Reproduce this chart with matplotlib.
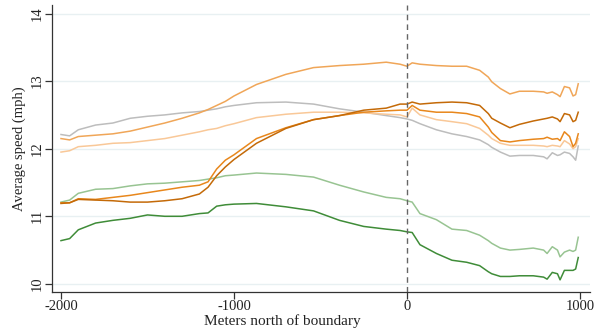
import matplotlib
matplotlib.use("Agg")
import matplotlib.pyplot as plt

plt.rcParams['font.family'] = ['Liberation Serif', 'DejaVu Serif']

meters = [-2000, -1950, -1900, -1800, -1700, -1600, -1500, -1400, -1300, -1200,
          -1150, -1100, -1050, -1000, -870, -700, -540, -390, -250, -120,
          -40, 0, 30, 75, 170, 260, 345, 420, 470, 490,
          540, 595, 650, 730, 790, 810, 840, 870, 885, 910,
          940, 960, 975, 990]

orange_top = [12.15, 12.13, 12.18, 12.20, 12.22, 12.26, 12.32, 12.38, 12.45, 12.53,
              12.58, 12.64, 12.70, 12.78, 12.95, 13.10, 13.20, 13.23, 13.25, 13.28,
              13.25, 13.22, 13.27, 13.25, 13.23, 13.22, 13.22, 13.16, 13.06, 12.99,
              12.89, 12.81, 12.85, 12.85, 12.84, 12.82, 12.84, 12.80, 12.77, 12.92,
              12.90, 12.78, 12.80, 12.96]

gray = [12.21, 12.19, 12.28, 12.35, 12.38, 12.45, 12.48, 12.50, 12.53, 12.55,
        12.57, 12.59, 12.62, 12.64, 12.68, 12.69, 12.66, 12.59, 12.54, 12.49,
        12.46, 12.44, 12.42, 12.37, 12.28, 12.22, 12.18, 12.13, 12.06, 12.02,
        11.95, 11.89, 11.90, 11.90, 11.88, 11.85, 11.94, 11.90, 11.91, 11.95,
        11.93, 11.88, 11.83, 12.04]

peach = [11.95, 11.97, 12.03, 12.05, 12.08, 12.09, 12.12, 12.15, 12.20, 12.25,
         12.28, 12.30, 12.34, 12.37, 12.46, 12.51, 12.54, 12.54, 12.53, 12.51,
         12.50, 12.47, 12.60, 12.50, 12.43, 12.40, 12.37, 12.30, 12.20, 12.15,
         12.08, 12.05, 12.05, 12.05, 12.04, 12.03, 12.05, 12.04, 12.03, 12.12,
         12.07, 12.00, 12.03, 12.15]

orange_mid = [11.20, 11.20, 11.26, 11.25, 11.28, 11.31, 11.35, 11.39, 11.43, 11.46,
              11.51, 11.70, 11.83, 11.91, 12.15, 12.31, 12.43, 12.49, 12.54, 12.56,
              12.57, 12.57, 12.64, 12.57, 12.54, 12.54, 12.52, 12.47, 12.32, 12.24,
              12.12, 12.10, 12.12, 12.14, 12.15, 12.17, 12.14, 12.15, 12.12, 12.25,
              12.18, 12.03, 12.08, 12.22]

orange_dark = [11.19, 11.20, 11.25, 11.24, 11.23, 11.21, 11.21, 11.23, 11.26, 11.33,
               11.43, 11.60, 11.73, 11.84, 12.08, 12.30, 12.43, 12.49, 12.57, 12.60,
               12.66, 12.66, 12.69, 12.66, 12.68, 12.69, 12.68, 12.64, 12.52, 12.45,
               12.38, 12.31, 12.36, 12.41, 12.44, 12.45, 12.47, 12.44, 12.40, 12.52,
               12.50, 12.40, 12.42, 12.54]

green_light = [11.21, 11.24, 11.34, 11.40, 11.41, 11.45, 11.48, 11.49, 11.51, 11.53,
               11.55, 11.57, 11.60, 11.61, 11.64, 11.62, 11.58, 11.46, 11.36, 11.28,
               11.26, 11.23, 11.21, 11.04, 10.95, 10.81, 10.79, 10.72, 10.64, 10.60,
               10.53, 10.50, 10.51, 10.53, 10.50, 10.45, 10.55, 10.50, 10.40, 10.47,
               10.50, 10.48, 10.50, 10.69]

green_dark = [10.64, 10.67, 10.80, 10.90, 10.94, 10.97, 11.02, 11.00, 11.00, 11.04,
              11.05, 11.15, 11.17, 11.18, 11.19, 11.14, 11.08, 10.94, 10.85, 10.81,
              10.79, 10.77, 10.76, 10.58, 10.45, 10.35, 10.32, 10.27, 10.18, 10.15,
              10.11, 10.11, 10.12, 10.12, 10.10, 10.07, 10.17, 10.15, 10.06, 10.20,
              10.20, 10.20, 10.22, 10.39]

series = [
    (gray, '#bdbdbd'),
    (peach, '#f9c898'),
    (orange_top, '#f0a658'),
    (green_light, '#98c492'),
    (green_dark, '#3f8c38'),
    (orange_mid, '#e8871c'),
    (orange_dark, '#c46a08'),
]

yticks = [10, 11, 12, 13, 14]
xticks = [-2000, -1000, 0, 1000]

fig = plt.figure(figsize=(5.94, 3.29), dpi=100)
ax = fig.add_axes([52/594, 37/329, 538/594, 287/329])

for yv in yticks:
    ax.axhline(yv, color='#e8f0f2', lw=1.0, zorder=0)

for vals, col in series:
    ax.plot(meters, vals, color=col, lw=1.1, zorder=2)

ax.axvline(0, color='#666666', lw=1.0, ls=(0, (4, 3)), zorder=3)

ax.set_xlim(-2052, 1058)
ax.set_ylim(9.88, 14.126)
ax.set_xticks(xticks)
ax.set_xticklabels([str(v) for v in xticks])
ax.set_yticks(yticks)
ax.set_yticklabels([str(v) for v in yticks], rotation=90, va='center')

for s in ['top', 'right']:
    ax.spines[s].set_visible(False)
for s in ['left', 'bottom']:
    ax.spines[s].set_color('#333333')
    ax.spines[s].set_linewidth(0.9)
ax.tick_params(axis='both', direction='out', length=5, width=0.9, color='#333333',
               labelsize=10.5, labelcolor='#222222', pad=1)

ax.set_xlabel('Meters north of boundary', fontsize=11, color='#222222')
ax.xaxis.set_label_coords((282 - 52) / 538, -0.077)
ax.set_ylabel('Average speed (mph)', fontsize=10.5, labelpad=3, color='#222222')

fig.savefig('out.png', dpi=100)
